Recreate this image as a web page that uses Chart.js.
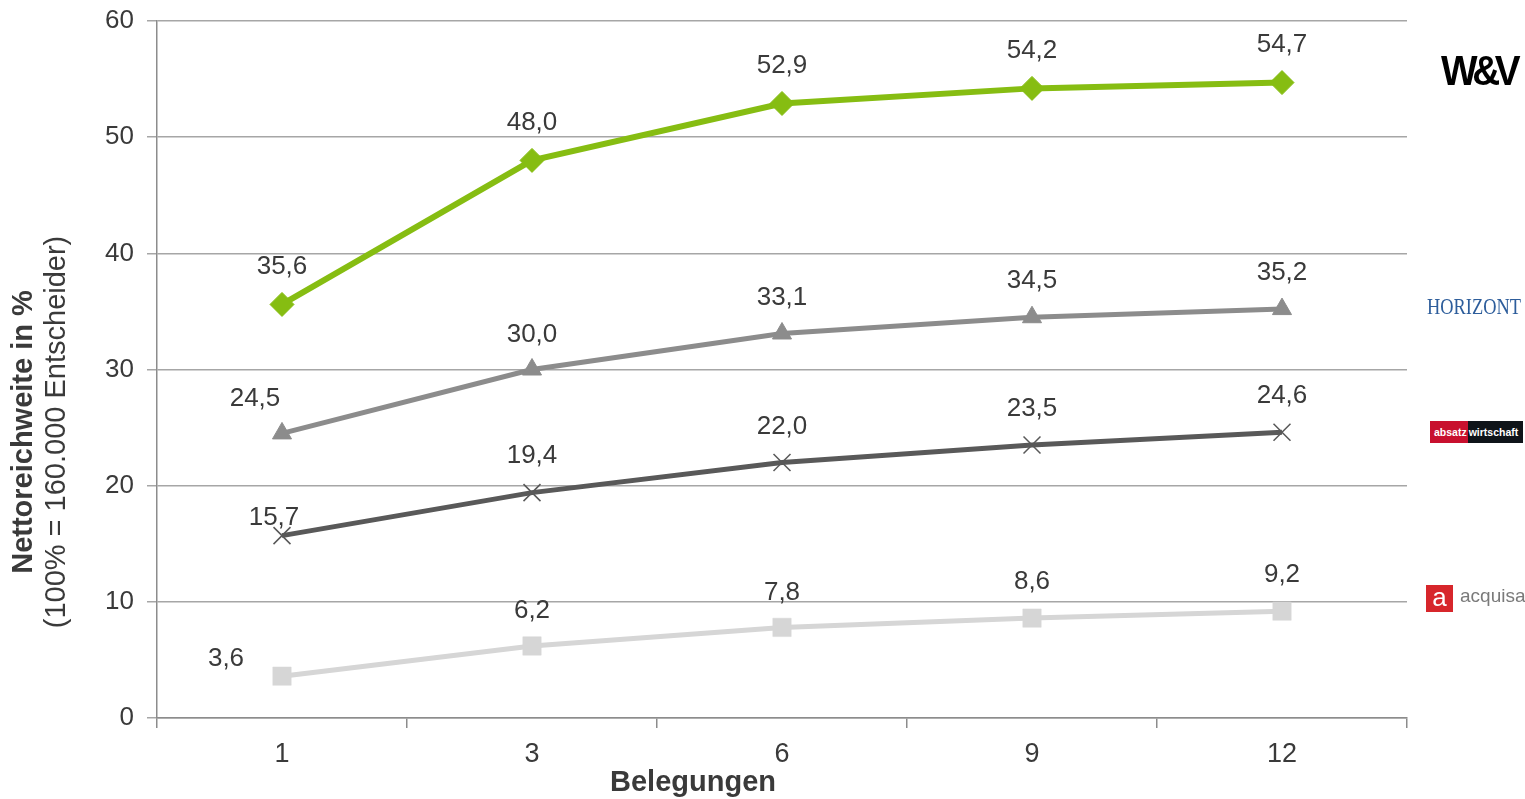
<!DOCTYPE html>
<html>
<head>
<meta charset="utf-8">
<script src="https://cdn.jsdelivr.net/npm/chart.js@4.4.1/dist/chart.umd.min.js"></script>
<style>
  html, body { margin: 0; padding: 0; background: #fff; }
  #wrap { position: relative; width: 1525px; height: 799px; }
  .logo { position: absolute; font-family: "Liberation Sans", Arial, sans-serif; white-space: nowrap; }
</style>
</head>
<body>
<div id="wrap">
  <canvas id="chart" width="1525" height="799"></canvas>
  <div class="logo" style="left:1441px; top:46px; font-size:43px; font-weight:900; letter-spacing:-6px; color:#000; transform:scaleX(0.9); transform-origin:left top;">W&amp;V</div>
  <div class="logo" style="left:1427px; top:294px; font-family:'Liberation Serif', serif; font-size:23px; color:#2d5d9b; transform:scaleX(0.8); transform-origin:left top;">HORIZONT</div>
  <div class="logo" style="left:1430px; top:421px; height:22px; font-size:10.5px; font-weight:bold; color:#fff; line-height:22px;"><span style="background:#c8102e; padding:0 1px 0 4px; display:inline-block;">absatz</span><span style="background:#0f1419; padding:0 5px 0 1px; display:inline-block;">wirtschaft</span></div>
  <div class="logo" style="left:1426px; top:585px; width:27px; height:27px; background:#d7262b; color:#fff; font-size:26px; line-height:24px; text-align:center;">a</div>
  <div class="logo" style="left:1460px; top:585px; font-size:19px; color:#7a7a7a;">acquisa</div>
</div>
<script>
// Belegungen (Anzahl Schaltungen)
var categories = ['1', '3', '6', '9', '12'];
// Nettoreichweite in %
var wuv = [35.6, 48.0, 52.9, 54.2, 54.7];
var horizont = [24.5, 30.0, 33.1, 34.5, 35.2];
var absatzwirtschaft = [15.7, 19.4, 22.0, 23.5, 24.6];
var acquisa = [3.6, 6.2, 7.8, 8.6, 9.2];
var yTicks = [0, 10, 20, 30, 40, 50, 60];

var FONT = '"Liberation Sans", Arial, sans-serif';
var TEXT = '#3a3a3a';

// where each value label sits relative to its point
var labelOffsets = [
    [[0, -38], [0, -38], [0, -38], [0, -38], [0, -38]],
    [[-27, -35], [0, -35], [0, -36], [0, -36], [0, -36]],
    [[-8, -18], [0, -37], [0, -36], [0, -36], [0, -36]],
    [[-56, -17], [0, -35], [0, -35], [0, -36], [0, -36]]
];

var valueLabels = {
    id: 'valueLabels',
    afterDatasetsDraw: function(chart) {
        var ctx = chart.ctx;
        ctx.save();
        ctx.font = '26px ' + FONT;
        ctx.fillStyle = TEXT;
        ctx.textAlign = 'center';
        ctx.textBaseline = 'middle';
        chart.data.datasets.forEach(function(ds, i) {
            var meta = chart.getDatasetMeta(i);
            meta.data.forEach(function(pt, j) {
                var off = labelOffsets[i][j];
                var txt = ds.data[j].toFixed(1).replace('.', ',');
                ctx.fillText(txt, pt.x + off[0], pt.y + off[1]);
            });
        });
        ctx.restore();
    }
};

var axisTitles = {
    id: 'axisTitles',
    afterDraw: function(chart) {
        var ctx = chart.ctx;
        ctx.save();
        ctx.fillStyle = TEXT;
        ctx.textAlign = 'center';
        ctx.textBaseline = 'middle';
        ctx.translate(24, 432);
        ctx.rotate(-Math.PI / 2);
        ctx.font = 'bold 29px ' + FONT;
        ctx.fillText('Nettoreichweite in %', 0, 0);
        ctx.font = '29px ' + FONT;
        ctx.fillText('(100% = 160.000 Entscheider)', 0, 33);
        ctx.restore();
        ctx.save();
        ctx.fillStyle = TEXT;
        ctx.textAlign = 'center';
        ctx.textBaseline = 'middle';
        ctx.font = 'bold 29px ' + FONT;
        ctx.fillText('Belegungen', 693, 783);
        ctx.restore();
    }
};

function series(label, data, color, style, radius, width, lineWidth) {
    return {
        label: label,
        data: data,
        borderColor: color,
        backgroundColor: color,
        borderWidth: lineWidth,
        pointStyle: style,
        pointRadius: radius,
        pointHoverRadius: radius,
        pointBorderWidth: width,
        pointBorderColor: color,
        pointBackgroundColor: color,
        tension: 0
    };
}

var ctx = document.getElementById('chart');
var chart = new Chart(ctx, {
    type: 'line',
    data: {
        labels: categories,
        datasets: [
            series('W&V', wuv, '#86bd12', 'rectRot', 12, 1, 6),
            series('HORIZONT', horizont, '#8c8c8c', 'triangle', 11, 1, 5),
            series('absatzwirtschaft', absatzwirtschaft, '#595959', 'crossRot', 12, 1.5, 5),
            series('acquisa', acquisa, '#d6d6d6', 'rect', 13, 0.5, 5)
        ]
    },
    options: {
        responsive: false,
        animation: false,
        layout: { padding: { left: 0, right: 118, top: 21, bottom: 0 } },
        plugins: {
            legend: { display: false },
            tooltip: { enabled: false }
        },
        scales: {
            x: {
                offset: true,
                grid: {
                    offset: true,
                    drawOnChartArea: false,
                    color: '#8c8c8c',
                    lineWidth: 1.5,
                    tickLength: 10
                },
                border: { color: '#8c8c8c', width: 1.5 },
                ticks: { color: TEXT, font: { family: FONT, size: 27 }, padding: 10 },
                afterFit: function(scale) {
                    scale.height = 81;
                    scale.paddingLeft = 0;
                    scale.paddingRight = 0;
                }
            },
            y: {
                min: 0,
                max: 60,
                afterBuildTicks: function(scale) {
                    scale.ticks = yTicks.map(function(v) { return { value: v }; });
                },
                grid: { color: '#a6a6a6', lineWidth: 1.5, tickLength: 10 },
                border: { color: '#8c8c8c', width: 1.5 },
                ticks: { color: TEXT, font: { family: FONT, size: 26 }, padding: 13 },
                afterFit: function(scale) {
                    scale.width = 157;
                    scale.paddingTop = 0;
                    scale.paddingBottom = 0;
                }
            }
        }
    },
    plugins: [valueLabels, axisTitles]
});
</script>
</body>
</html>
